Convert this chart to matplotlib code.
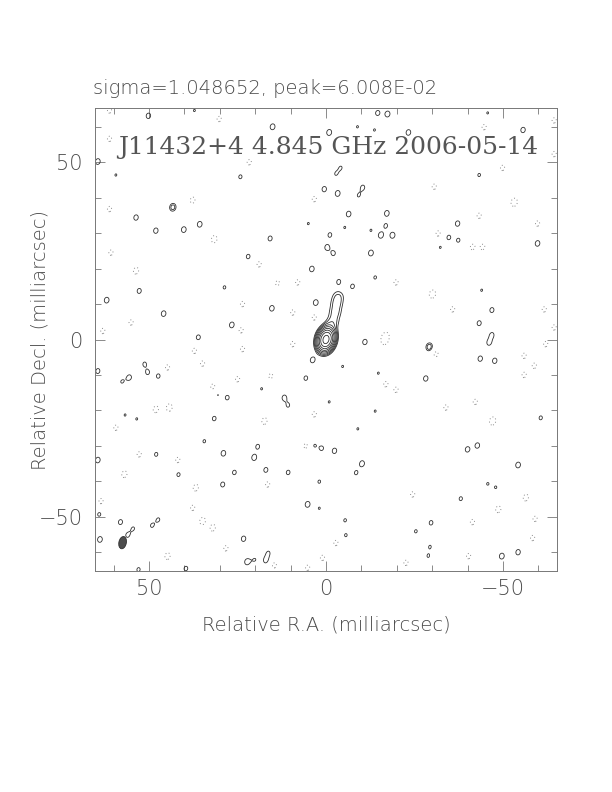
import numpy as np
import matplotlib
matplotlib.use("Agg")
import matplotlib.pyplot as plt
from matplotlib.patches import Ellipse
from matplotlib.ticker import MultipleLocator, FuncFormatter

# ---------------- data (relative RA / Dec in mas, amplitudes in units of sigma) -------------
title_top = "sigma=1.048652, peak=6.008E-02"
title_map = "J11432+4 4.845 GHz 2006-05-14"
xlabel = "Relative R.A. (milliarcsec)"
ylabel = "Relative Decl. (milliarcsec)"

sigma_mjy = 1.048652
peak_jy = 6.008e-02
lev_base = 3.0          # lowest contour in sigma
n_levels = 9            # factor sqrt(2) steps

# core component
core_x, core_y, core_a = 0.0, 0.0, 57.3
# jet components: x, y, amplitude
jet_x = [-2.0, -2.6, -3.0, -3.5]
jet_y = [5.0, 7.6, 10.1, 12.4]
jet_a = [3.8, 4.0, 3.9, 3.7]

# beam (FWHM in mas, PA deg) and its position on the map
beam_maj, beam_min, beam_pa = 3.5, 2.1, -12.0
beam_x, beam_y = 57.5, -57.3

# positive noise islands
pos_x = [50.2, 15.1, 64.5, 24.2, 0.5, 43.3, 53.7, 48.1, 40.2, 35.7, 15.8, -0.3, 22.0, 4.0,
         52.8, 28.7, 62.0, 2.9, 15.3, 45.9, 26.6, 36.1, 59.4, 5.0, 37.2,
         -14.6, -17.4, -0.9, -23.3, -55.7, -4.2, -2.8, -3.3, -10.4, -9.2, -6.4, -17.2, -16.9,
         -15.5, -18.8, -1.1, -12.7, -2.1, -12.7, -37.2, -34.7, -37.4, -59.8, -3.6, -7.5, -13.9,
         -43.3, -46.9, -43.3, -46.9, -32.3, -44.0, -8.9, -13.7, -45.7, -5.3,
         51.3, 55.6, 50.4, 47.4, 64.5, 3.8, 5.7, 11.8, 10.7, 27.9, 31.6, 34.4,
         19.3, 20.3, 29.0, 1.2, 3.3, 48.0, 64.5, 25.9, 17.0, 10.7, 41.7, 29.2, 1.9, 5.2,
         64.1, 58.1, 47.4, 49.2, 54.5, 56.1, 63.9, 23.3, 22.3, 20.1, 17.0, 16.3, 53.0,
         39.6, 57.7, 56.8, 53.5, 18.2, 30.6, 1.9,
         -11.0, -29.2, -46.1, -43.6, -47.7, -28.2, -60.7, -2.4, -10.2, -8.5, -40.0, -42.8,
         -54.3, -38.1, -5.4, -29.7, -5.6, -25.4, -54.3, -49.7, -29.4, -28.9, -4.7, -14.8,
         -45.7, -48.0, -0.9, -13.9, -9.0]
pos_y = [63.1, 60.0, 50.2, 45.9, 42.4, 37.3, 34.4, 30.7, 31.0, 32.5, 28.5, 26.0, 23.4, 19.9,
         13.7, 14.7, 11.1, 10.4, 8.8, 7.3, 4.1, 0.6, 46.4, 32.7, 64.6,
         63.9, 63.6, 58.4, 58.4, 59.1, 48.5, 46.7, 41.2, 42.9, 40.6, 35.4, 35.6, 32.1,
         29.4, 29.4, 29.5, 30.8, 24.3, 24.4, 32.7, 28.8, 28.0, 27.1, 16.3, 15.0, 17.5,
         46.4, 8.3, 4.6, 1.3, 26.0, 13.9, 60.0, 59.1, 63.9, 31.6,
         -6.9, -10.7, -9.3, -10.3, -8.9, -5.8, -10.9, -16.4, -18.6, -16.4, -22.3,
         -28.7, -30.2, -33.3, -32.1, -30.7, -29.9, -32.4, -34.0, -37.5, -36.8, -37.5, -38.1,
         -40.9, -40.1, -46.5, -49.3, -51.5, -50.8, -52.5, -53.3, -55.2, -56.4, -56.2,
         -62.7, -62.1, -62.3, -60.2, -64.9, -64.6, -11.9, -21.3, -22.4, -13.9, -15.6,
         -47.6,
         -0.7, -2.1, -0.9, -5.4, -6.0, -11.0, -22.1, -31.4, -35.0, -37.6, -31.0, -29.9,
         -35.4, -44.9, -51.0, -51.7, -55.2, -54.1, -60.0, -61.1, -58.4, -61.1, -7.6, -9.5,
         -40.7, -41.7, -17.6, -20.2, -25.2]
pos_a = [3.9, 4.1, 4.05, 3.45, 3.9, 5.2, 3.9, 3.9, 4.05, 4.05, 3.75, 3.9, 3.6, 4.0,
         3.75, 3.3, 4.05, 4.1, 4.0, 4.0, 4.1, 3.75, 3.15, 3.15, 3.15,
         3.75, 4.1, 4.15, 4.0, 3.9, 3.1, 3.1, 4.1, 3.6, 3.15, 4.0, 4.0, 3.45,
         4.1, 4.15, 3.6, 3.15, 3.6, 4.1, 3.9, 3.6, 3.45, 4.0, 3.6, 3.6, 3.3,
         3.3, 3.75, 3.75, 3.6, 3.15, 3.15, 3.15, 3.15, 3.15, 3.15,
         3.4, 3.8, 3.5, 3.6, 3.75, 3.9, 3.6, 3.8, 3.3, 3.6, 3.6, 3.3,
         3.6, 4.1, 4.0, 3.5, 3.2, 3.45, 4.0, 3.6, 3.75, 3.6, 3.45, 3.75, 3.3, 4.1,
         3.45, 3.75, 3.3, 3.3, 3.2, 3.5, 4.05, 3.9, 4.1, 3.05, 3.8, 3.2, 3.45,
         3.6, 3.15, 3.15, 3.15, 3.15, 3.15, 3.15,
         3.9, 5.5, 3.75, 3.9, 3.9, 3.9, 3.45, 3.9, 4.05, 3.45, 3.9, 3.9,
         4.05, 3.45, 3.3, 3.6, 3.3, 3.3, 3.9, 4.1, 3.15, 3.15, 3.15, 3.15,
         3.15, 3.15, 3.15, 3.15, 3.15]

# negative noise islands
neg_x = [61.2, 30.2, 61.2, 21.7, 37.7, 3.3, 61.2, 31.6, 60.8, 53.7, 18.9, 8.0, 23.6, 9.4,
         3.3, 55.1, 63.1, 24.0, 13.7,
         -44.7, -49.9, -30.6, -53.2, -43.3, -59.8, -31.7, -44.3, -41.4, -30.1, -35.8, -61.7,
         -19.8, -16.9, -64.5, -64.5, -64.5,
         9.4, 37.2, 23.6, 34.9, 44.8, 25.0, 32.0, 15.6, 48.1, 44.3, 59.4, 17.4, 3.3, 52.8,
         41.9, 57.0, 36.8, 16.5, 63.6, 37.7, 34.9, 32.0, 44.8, 28.3, 5.2, 14.6, 1.0, 5.7,
         -16.5, -31.1, -16.9, -19.8, -56.0, -58.9, -56.0, -33.9, -42.2, -47.1, -24.5, -48.7,
         -41.4, -56.5, -2.8, -22.6, -40.3, -59.1, -62.1, -58.4]
neg_y = [64.6, 62.2, 56.6, 50.0, 39.3, 39.6, 36.8, 28.3, 24.5, 19.4, 21.2, 16.1, 10.0, 7.6,
         6.2, 4.8, 2.4, 2.6, 15.9,
         59.9, 48.4, 43.1, 38.7, 34.9, 32.7, 29.9, 26.1, 26.1, 12.8, 8.5, 8.5,
         16.1, 1.0, 3.4, 52.3, 61.8,
         -1.3, -3.2, -2.7, -6.8, -7.9, -11.2, -13.3, -10.3, -19.7, -19.2, -24.9, -23.0, -21.1,
         -32.4, -34.0, -38.0, -41.8, -40.9, -45.6, -47.5, -51.2, -53.1, -61.1, -58.9, -64.4,
         -63.7, -61.6, -30.0,
         -0.4, -4.1, -12.6, -14.2, -4.6, -7.4, -10.0, -19.2, -17.6, -23.0, -43.7, -47.9,
         -51.5, -44.6, -57.4, -63.0, -61.1, -50.6, -1.3, -56.0]
neg_a = [-3.6, -3.6, -3.6, -3.6, -3.8, -3.6, -3.6, -4.2, -3.6, -4.0, -3.6, -3.6, -3.6, -3.6,
         -3.6, -3.6, -3.6, -3.6, -3.5,
         -3.6, -3.6, -3.6, -4.6, -3.6, -3.6, -3.6, -3.6, -3.6, -4.6, -3.6, -3.6,
         -3.6, -3.6, -3.6, -3.6, -3.6,
         -3.6, -3.6, -3.6, -3.6, -3.6, -3.6, -3.6, -3.5, -4.0, -4.3, -3.6, -4.0, -3.6, -3.6,
         -3.6, -4.0, -4.0, -3.6, -3.6, -3.6, -4.2, -4.0, -4.0, -3.6, -3.6, -3.6, -3.6, -3.5,
         -3.6, -3.6, -3.6, -3.6, -3.6, -3.6, -3.6, -3.6, -3.6, -4.6, -3.6, -4.0,
         -3.6, -4.0, -3.6, -3.6, -3.6, -3.6, -3.6, -3.6]

# ---------------- build the map ----------------
step = 0.1
grid = np.arange(-66.0, 66.0 + step / 2, step)
X, Y = np.meshgrid(grid, grid)
img = np.zeros_like(X)


def add_comp(x0, y0, amp, smaj, smin, pa_deg):
    w = int(np.ceil(5 * max(smaj, smin) / step)) + 2
    ix = int(round((x0 - grid[0]) / step))
    iy = int(round((y0 - grid[0]) / step))
    sy = slice(max(iy - w, 0), min(iy + w, len(grid)))
    sx = slice(max(ix - w, 0), min(ix + w, len(grid)))
    dx = X[sy, sx] - x0
    dy = Y[sy, sx] - y0
    t = np.deg2rad(pa_deg)
    u = dx * np.sin(t) + dy * np.cos(t)
    v = dx * np.cos(t) - dy * np.sin(t)
    img[sy, sx] += amp * np.exp(-0.5 * ((u / smaj) ** 2 + (v / smin) ** 2))


add_comp(core_x, core_y, core_a, 2.0, 1.4, -15.0)
for x0, y0, a0 in zip(jet_x, jet_y, jet_a):
    add_comp(x0, y0, a0, 1.4, 1.5, -10.0)
for x0, y0, a0 in zip(pos_x, pos_y, pos_a):
    add_comp(x0, y0, a0, 1.05, 0.85, beam_pa)
for x0, y0, a0 in zip(neg_x, neg_y, neg_a):
    add_comp(x0, y0, a0, 1.25, 0.95, beam_pa)

pos_levels = [lev_base * np.sqrt(2.0) ** k for k in range(n_levels)]
neg_levels = [-lev_base]

# ---------------- plot ----------------
fig = plt.figure(figsize=(6.12, 7.92), dpi=100)
ax = fig.add_axes([95 / 612, 1 - 571 / 792, 462 / 612, 463 / 792])

tcol = "#4a4a4a"
ax.contour(grid, grid, img, levels=neg_levels, colors="#8a8a8a",
           linewidths=0.7, linestyles=[(0, (1, 2.5))])
ax.contour(grid, grid, img, levels=pos_levels, colors="#2e2e2e",
           linewidths=0.6, linestyles="solid")

ax.add_patch(Ellipse((beam_x, beam_y), beam_min, beam_maj, angle=-beam_pa,
                     facecolor="#4d4d4d", edgecolor="#2e2e2e", lw=0.6))

ax.set_xlim(65.3, -65.3)
ax.set_ylim(-65.3, 65.3)
ax.set_aspect("auto")

fmt = FuncFormatter(lambda v, p: "%d" % v if v >= 0 else "\u2212%d" % abs(v))
for axis in (ax.xaxis, ax.yaxis):
    axis.set_major_locator(MultipleLocator(50))
    axis.set_minor_locator(MultipleLocator(10))
    axis.set_major_formatter(fmt)
ax.tick_params(which="both", direction="in", top=True, right=True,
               color="#777777", width=0.6, labelcolor=tcol, labelsize=15)
ax.tick_params(which="major", length=7)
ax.tick_params(which="minor", length=4)
ax.tick_params(axis="x", pad=6)
ax.tick_params(axis="y", pad=9)
for lab in ax.get_xticklabels() + ax.get_yticklabels():
    lab.set_fontweight("light")
for s in ax.spines.values():
    s.set_color("#777777")
    s.set_linewidth(0.7)

ax.text(0.505, 0.914, title_map, transform=ax.transAxes, ha="center", va="center",
        family="DejaVu Serif", fontsize=18, color="#555555", fontweight="light")
fig.text(93 / 612, 1 - 88 / 792, title_top, ha="left", va="center",
         fontsize=14, color=tcol, fontweight="light")
fig.text(326 / 612, 1 - 625 / 792, xlabel, ha="center", va="center",
         fontsize=14, color=tcol, fontweight="light")
fig.text(40 / 612, 1 - 340 / 792, ylabel, ha="center", va="center", rotation=90,
         fontsize=14, color=tcol, fontweight="light")

fig.savefig("out.png", dpi=100)
